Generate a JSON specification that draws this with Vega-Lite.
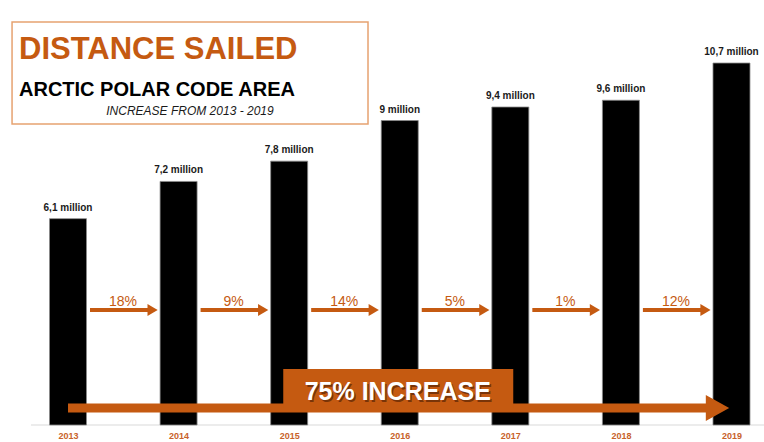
{
  "$schema": "https://vega.github.io/schema/vega-lite/v6.json",
  "width": 764,
  "height": 425,
  "autosize": {"type": "none"},
  "padding": {"left": 0, "top": 0, "right": 0, "bottom": 17},
  "background": "white",
  "config": {
    "view": {"stroke": null},
    "font": "Liberation Sans",
    "axisX": {
      "ticks": false, "domain": false, "grid": false,
      "labelColor": "#c8622a", "labelFontWeight": "bold", "labelFontSize": 9,
      "labelPadding": 6, "labelFont": "Liberation Sans", "labelFlush": false,
      "tickCount": 7, "format": "d"
    }
  },
  "datasets": {
    "sailed": [
      {"year": 2013, "distance": 6.1, "label": "6,1 million"},
      {"year": 2014, "distance": 7.2, "label": "7,2 million"},
      {"year": 2015, "distance": 7.8, "label": "7,8 million"},
      {"year": 2016, "distance": 9.0, "label": "9 million"},
      {"year": 2017, "distance": 9.4, "label": "9,4 million"},
      {"year": 2018, "distance": 9.6, "label": "9,6 million"},
      {"year": 2019, "distance": 10.7, "label": "10,7 million"}
    ],
    "growth": [
      {"from": 2013, "to": 2014, "change": "18%"},
      {"from": 2014, "to": 2015, "change": "9%"},
      {"from": 2015, "to": 2016, "change": "14%"},
      {"from": 2016, "to": 2017, "change": "5%"},
      {"from": 2017, "to": 2018, "change": "1%"},
      {"from": 2018, "to": 2019, "change": "12%"}
    ],
    "total": [
      {"from": 2013, "to": 2019, "change": "75% INCREASE"}
    ],
    "heading": [
      {"title": "DISTANCE SAILED", "subtitle": "ARCTIC POLAR CODE AREA", "note": "INCREASE FROM 2013 - 2019"}
    ]
  },
  "layer": [
    {
      "data": {"name": "heading"},
      "mark": {"type": "rect", "fill": "transparent", "stroke": "#e6a270", "strokeWidth": 1.5},
      "encoding": {
        "x": {"datum": 2012.494, "type": "quantitative", "title": null, "scale": {"domain": [2012.385, 2019.294], "nice": false, "zero": false, "padding": 0}},
        "x2": {"datum": 2015.713},
        "y": {"datum": 11.913, "type": "quantitative", "scale": {"domain": [0, 12.563], "nice": false, "zero": true}, "axis": null},
        "y2": {"datum": 8.897}
      }
    },
    {
      "data": {"name": "heading"},
      "mark": {"type": "rule", "color": "#d9d9d9", "strokeWidth": 1},
      "encoding": {
        "x": {"datum": 2012.665, "type": "quantitative", "title": null},
        "x2": {"datum": 2019.294},
        "y": {"datum": 0, "type": "quantitative", "axis": null}
      }
    },
    {
      "data": {"name": "sailed"},
      "mark": {"type": "bar", "orient": "vertical", "size": 37, "color": "#000000", "stroke": "#8a8a8a", "strokeWidth": 0.8},
      "encoding": {
        "x": {
          "field": "year", "type": "quantitative", "title": null,
          "scale": {"domain": [2012.385, 2019.294], "nice": false, "zero": false, "padding": 0},
          "axis": {"values": [2013, 2014, 2015, 2016, 2017, 2018, 2019], "format": "d", "title": null}
        },
        "y": {"field": "distance", "type": "quantitative", "scale": {"domain": [0, 12.563], "nice": false, "zero": true}, "axis": null}
      }
    },
    {
      "data": {"name": "sailed"},
      "mark": {"type": "text", "baseline": "alphabetic", "align": "center", "dy": -8, "fontSize": 10, "fontWeight": "bold", "color": "#1a1a1a"},
      "encoding": {
        "x": {"field": "year", "type": "quantitative", "title": null},
        "y": {"field": "distance", "type": "quantitative", "axis": null},
        "text": {"field": "label"}
      }
    },
    {
      "data": {"name": "growth"},
      "mark": {"type": "rule", "color": "#c55a11", "strokeWidth": 4, "xOffset": 22, "x2Offset": -27},
      "encoding": {
        "x": {"field": "from", "type": "quantitative", "title": null},
        "x2": {"field": "to"},
        "y": {"datum": 3.4, "type": "quantitative", "axis": null}
      }
    },
    {
      "data": {"name": "growth"},
      "mark": {"type": "point", "shape": "M-0.85,-1L0.85,0L-0.85,1Z", "size": 144, "filled": true, "opacity": 1, "color": "#c55a11", "xOffset": -26},
      "encoding": {
        "x": {"field": "to", "type": "quantitative", "title": null},
        "y": {"datum": 3.4, "type": "quantitative", "axis": null}
      }
    },
    {
      "data": {"name": "growth"},
      "mark": {"type": "text", "baseline": "alphabetic", "align": "center", "dx": 55, "dy": -4, "fontSize": 14, "color": "#c55a11"},
      "encoding": {
        "x": {"field": "from", "type": "quantitative", "title": null},
        "y": {"datum": 3.4, "type": "quantitative", "axis": null},
        "text": {"field": "change"}
      }
    },
    {
      "data": {"name": "total"},
      "mark": {"type": "rule", "color": "#c55a11", "strokeWidth": 9, "x2Offset": -20},
      "encoding": {
        "x": {"field": "from", "type": "quantitative", "title": null},
        "x2": {"field": "to"},
        "y": {"datum": 0.5, "type": "quantitative", "axis": null}
      }
    },
    {
      "data": {"name": "total"},
      "mark": {"type": "point", "shape": "M-0.9,-1L0.9,0L-0.9,1Z", "size": 676, "filled": true, "opacity": 1, "color": "#c55a11", "xOffset": -14},
      "encoding": {
        "x": {"field": "to", "type": "quantitative", "title": null},
        "y": {"datum": 0.5, "type": "quantitative", "axis": null}
      }
    },
    {
      "data": {"name": "total"},
      "mark": {"type": "rect", "color": "#c55a11", "xOffset": -116.5, "x2Offset": 113.5},
      "encoding": {
        "x": {"datum": 2016, "type": "quantitative", "title": null},
        "x2": {"datum": 2016},
        "y": {"datum": 1.655, "type": "quantitative", "axis": null},
        "y2": {"datum": 0.5}
      }
    },
    {
      "data": {"name": "total"},
      "mark": {"type": "text", "baseline": "alphabetic", "align": "center", "dx": -0.5, "dy": 1.5, "fontSize": 25, "fontWeight": "bold", "color": "#5a2505", "opacity": 0.7},
      "encoding": {
        "x": {"datum": 2016, "type": "quantitative", "title": null},
        "y": {"datum": 0.739, "type": "quantitative", "axis": null},
        "text": {"field": "change"}
      }
    },
    {
      "data": {"name": "total"},
      "mark": {"type": "text", "baseline": "alphabetic", "align": "center", "dx": -2, "fontSize": 25, "fontWeight": "bold", "color": "#ffffff"},
      "encoding": {
        "x": {"datum": 2016, "type": "quantitative", "title": null},
        "y": {"datum": 0.739, "type": "quantitative", "axis": null},
        "text": {"field": "change"}
      }
    },
    {
      "data": {"name": "heading"},
      "mark": {"type": "text", "baseline": "alphabetic", "align": "left", "fontSize": 31, "fontWeight": "bold", "color": "#c55a11"},
      "encoding": {
        "x": {"datum": 2012.557, "type": "quantitative", "title": null},
        "y": {"datum": 10.82, "type": "quantitative", "axis": null},
        "text": {"field": "title"}
      }
    },
    {
      "data": {"name": "heading"},
      "mark": {"type": "text", "baseline": "alphabetic", "align": "left", "fontSize": 20, "fontWeight": "bold", "color": "#000000"},
      "encoding": {
        "x": {"datum": 2012.557, "type": "quantitative", "title": null},
        "y": {"datum": 9.725, "type": "quantitative", "axis": null},
        "text": {"field": "subtitle"}
      }
    },
    {
      "data": {"name": "heading"},
      "mark": {"type": "text", "baseline": "alphabetic", "align": "center", "fontSize": 12, "fontStyle": "italic", "color": "#1a1a1a"},
      "encoding": {
        "x": {"datum": 2014.103, "type": "quantitative", "title": null},
        "y": {"datum": 9.163, "type": "quantitative", "axis": null},
        "text": {"field": "note"}
      }
    }
  ]
}
